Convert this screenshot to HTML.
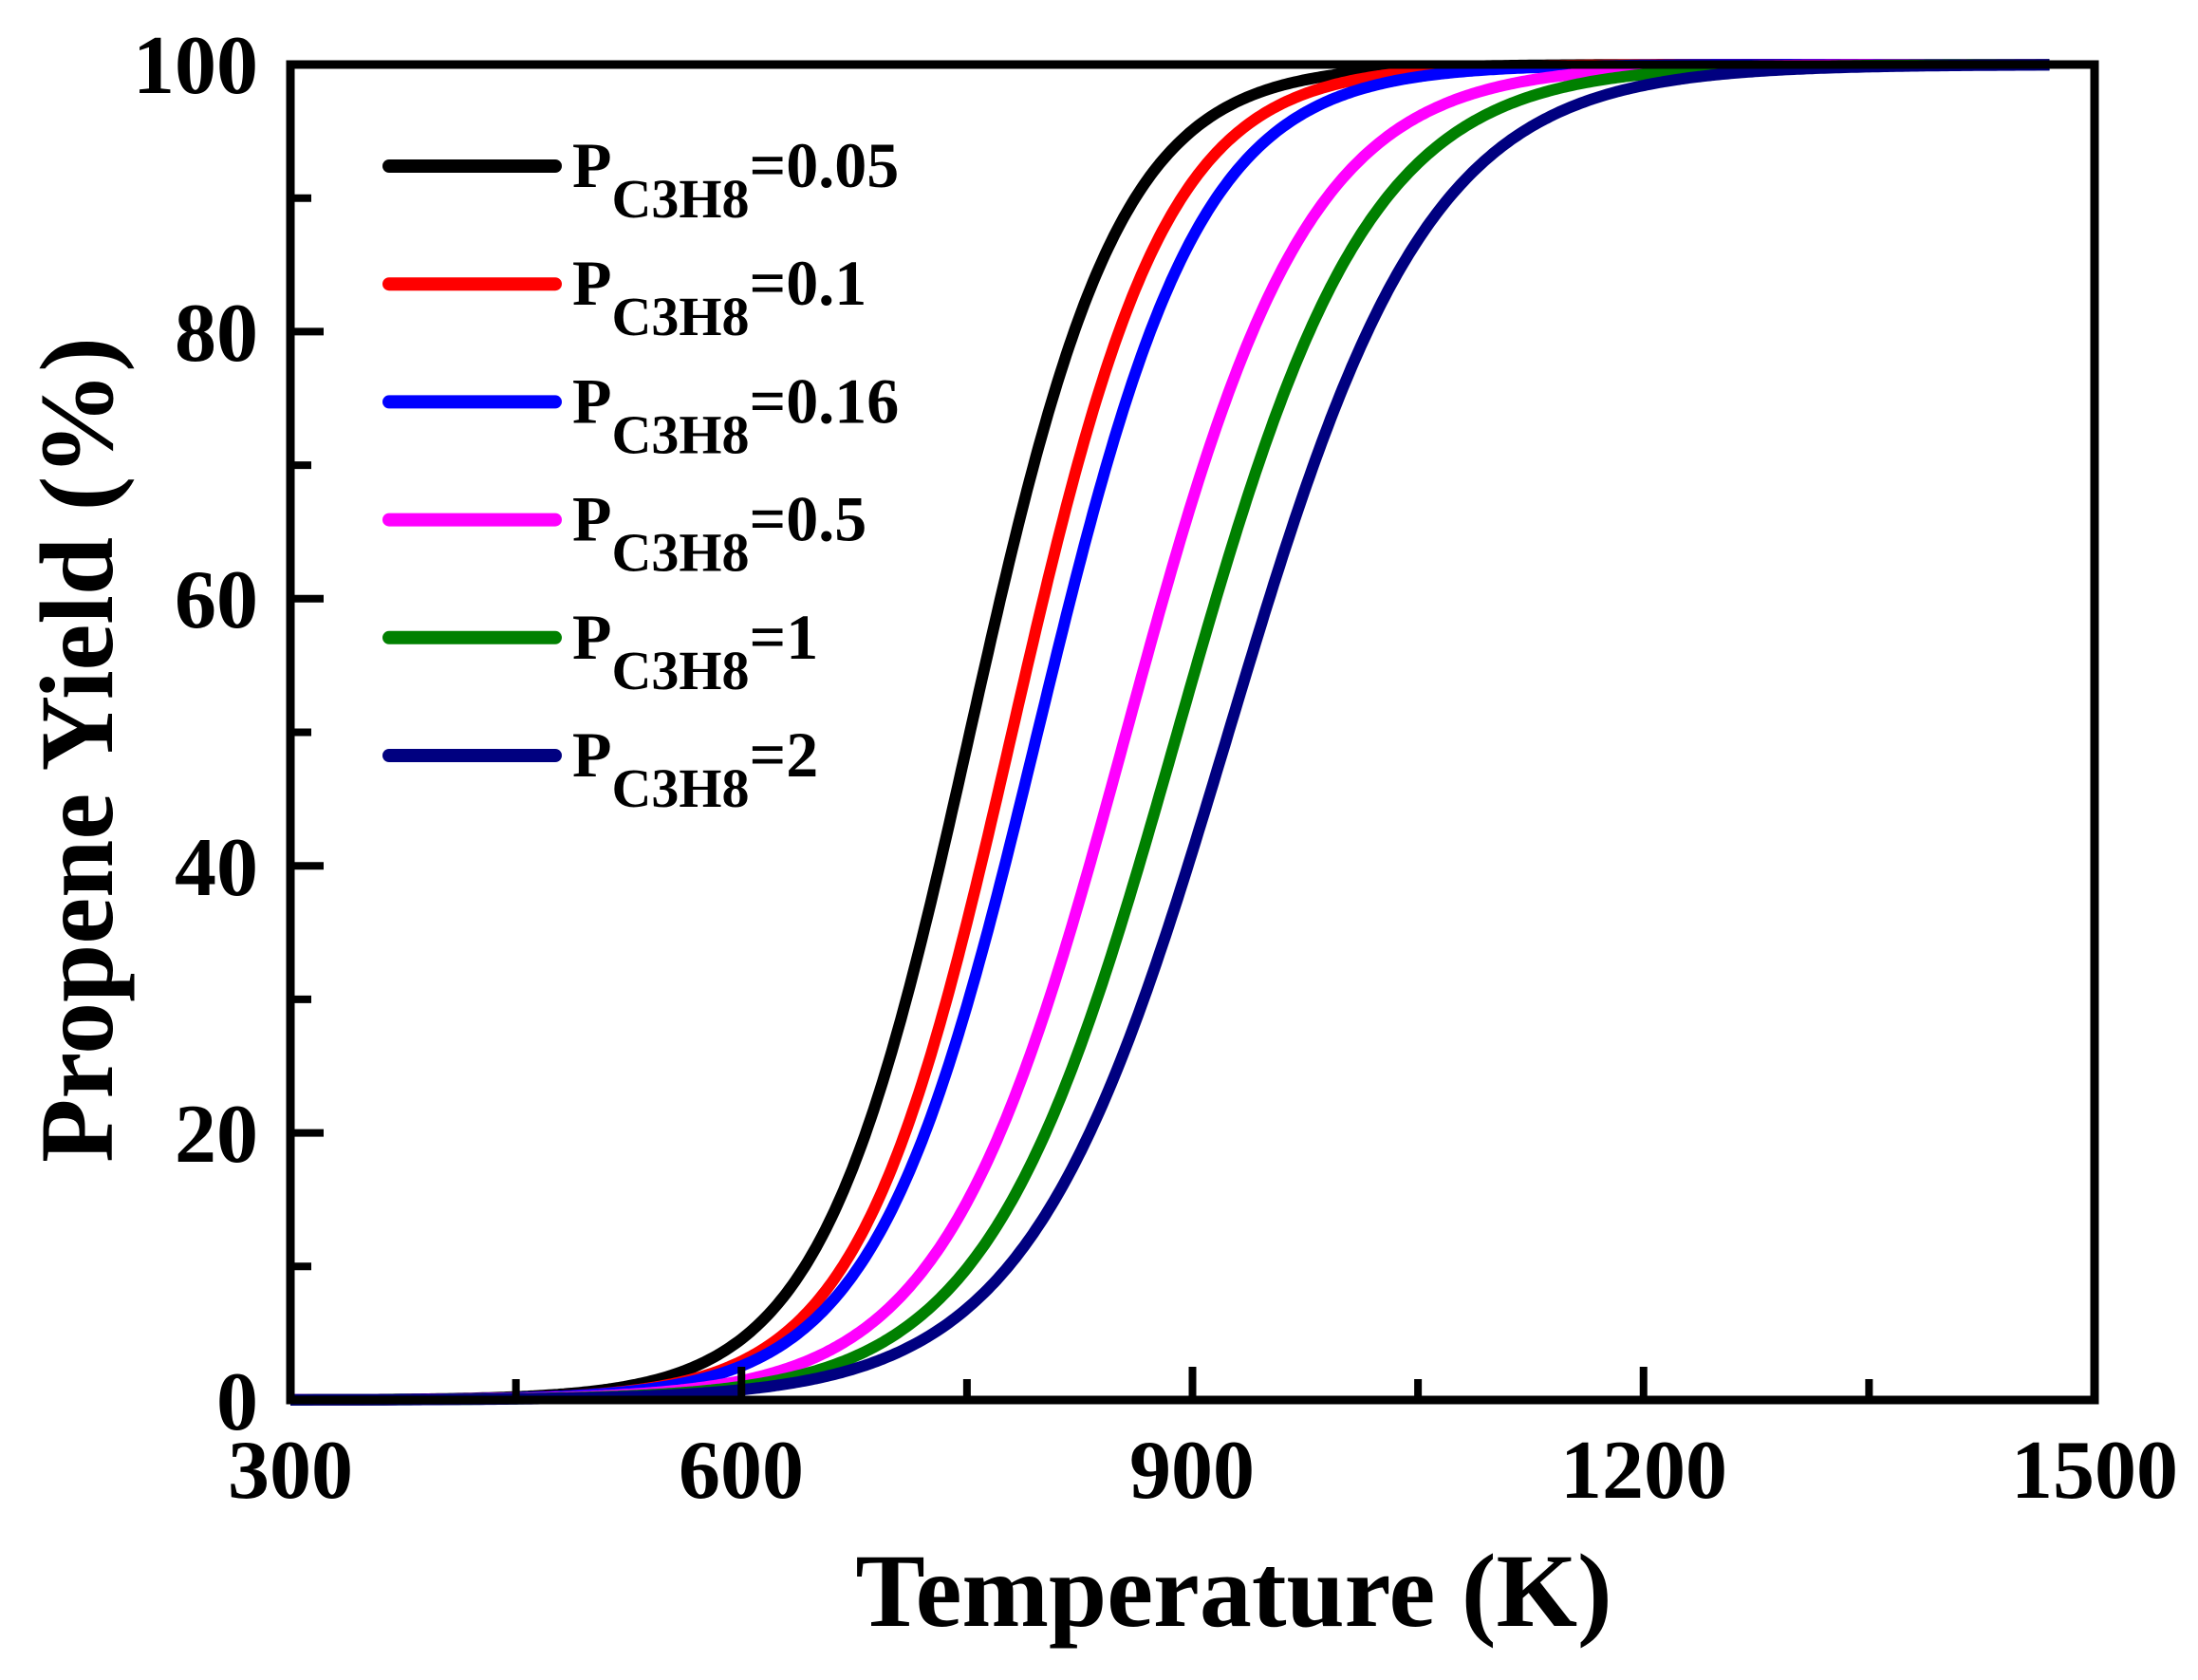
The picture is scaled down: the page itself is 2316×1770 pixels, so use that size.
<!DOCTYPE html>
<html><head><meta charset="utf-8"><style>
html,body{margin:0;padding:0;background:#fff;}
svg{display:block;}
text{font-family:"Liberation Serif",serif;font-weight:bold;fill:#000;}
</style></head><body>
<svg id="s" width="2316" height="1770" viewBox="0 0 2316 1770" xmlns="http://www.w3.org/2000/svg">
<g id="curves" fill="none" stroke-width="12" stroke-linejoin="round"></g>
<rect x="306" y="68" width="1901" height="1407" fill="none" stroke="#000" stroke-width="9"/>
<g stroke="#000" stroke-width="8" id="ticks"></g>
<g font-size="88" text-anchor="end">
<text x="272" y="98">100</text>
<text x="272" y="380">80</text>
<text x="272" y="661">60</text>
<text x="272" y="943">40</text>
<text x="272" y="1224">20</text>
<text x="272" y="1506">0</text>
</g>
<g font-size="88" text-anchor="middle">
<text x="306" y="1578">300</text>
<text x="781" y="1578">600</text>
<text x="1256" y="1578">900</text>
<text x="1732" y="1578">1200</text>
<text x="2207" y="1578">1500</text>
</g>
<text x="1300" y="1713" font-size="110" text-anchor="middle">Temperature (K)</text>
<text transform="translate(118,790) rotate(-90)" font-size="110" text-anchor="middle">Propene Yield (%)</text>
<g id="legend" stroke-width="14" stroke-linecap="round"></g>
</svg>
<script>
var ns="http://www.w3.org/2000/svg";
function X(T){return 306+(T-300)*1901/1200;}
function Y(v){return 1475-v*14.07;}
var ser=[["#000000",752,0.0200,"0.05"],["#ff0000",780,0.0195,"0.1"],["#0000ff",797,0.0185,"0.16"],["#ff00ff",856,0.0165,"0.5"],["#008000",890,0.0158,"1"],["#000080",924,0.0150,"2"]];
var cg=document.getElementById("curves");
ser.forEach(function(s){
 var d="";
 for(var T=300;T<=1470;T+=2){
  var v=100/(1+Math.exp(-s[2]*(T-s[1])));
  d+=(T==300?"M":"L")+X(T).toFixed(1)+","+Y(v).toFixed(1);
 }
 var p=document.createElementNS(ns,"path");p.setAttribute("d",d);p.setAttribute("stroke",s[0]);cg.appendChild(p);
});
var tg=document.getElementById("ticks");
function line(x1,y1,x2,y2){var l=document.createElementNS(ns,"line");l.setAttribute("x1",x1);l.setAttribute("y1",y1);l.setAttribute("x2",x2);l.setAttribute("y2",y2);tg.appendChild(l);}
for(var T=450;T<1500;T+=150){var maj=((T-300)%300==0);line(X(T),1475,X(T),1475-(maj?35:22));}
for(var v=10;v<100;v+=10){var maj=(v%20==0);line(306,Y(v),306+(maj?35:22),Y(v));}
var lg=document.getElementById("legend");
ser.forEach(function(s,i){
 var y=175+i*124.2;
 var l=document.createElementNS(ns,"line");l.setAttribute("x1",410);l.setAttribute("x2",585);l.setAttribute("y1",y);l.setAttribute("y2",y);l.setAttribute("stroke",s[0]);lg.appendChild(l);
 var t=document.createElementNS(ns,"text");t.setAttribute("x",603);t.setAttribute("y",y+22);t.setAttribute("font-size","68");
 t.innerHTML='P<tspan font-size="58" dy="32">C3H8</tspan><tspan dy="-32">='+s[3]+'</tspan>';
 document.getElementById("s").appendChild(t);
});
</script>
</body></html>
